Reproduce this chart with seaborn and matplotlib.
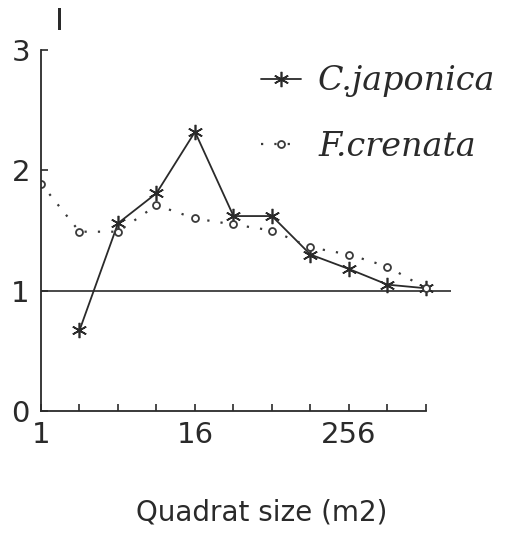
import matplotlib
matplotlib.use("Agg")
import matplotlib.pyplot as plt
import seaborn as sns
import pandas as pd
import numpy as np
from matplotlib.ticker import FixedLocator, FixedFormatter

sns.set_style("ticks")
plt.rcParams['font.family'] = ['DejaVu Sans']

# Data
sizes_jap = [2, 4, 8, 16, 32, 64, 128, 256, 512, 1024]
vals_jap = [0.67, 1.56, 1.81, 2.32, 1.62, 1.62, 1.30, 1.18, 1.05, 1.02]
sizes_cre = [1, 2, 4, 8, 16, 32, 64, 128, 256, 512, 1024]
vals_cre = [1.89, 1.49, 1.49, 1.71, 1.60, 1.55, 1.50, 1.36, 1.30, 1.20, 1.02]
tick_positions = [1, 2, 4, 8, 16, 32, 64, 128, 256, 512, 1024]
tick_labels = ["1", "", "", "", "16", "", "", "", "256", "", ""]
y_ticks = [0, 1, 2, 3]
label_jap = "C.japonica"
label_cre = "F.crenata"

df_jap = pd.DataFrame({"size": sizes_jap, "I": vals_jap})
df_cre = pd.DataFrame({"size": sizes_cre, "I": vals_cre})

fig = plt.figure(figsize=(5.05, 5.33), dpi=100)
ax = fig.add_axes([41/505, 1-411/533, (451-41)/505, (411-50)/533])

sns.lineplot(data=df_jap, x="size", y="I", ax=ax, color="#2a2a2a", lw=1.3,
             marker=(6, 2, 0), ms=11, mew=1.2, mec="#2a2a2a", label=label_jap)
sns.lineplot(data=df_cre, x="size", y="I", ax=ax, color="#3a3a3a", lw=1.6,
             linestyle=(0, (1, 5)), marker="o", ms=5, mfc="white",
             mec="#3a3a3a", mew=1.3, label=label_cre)

ax.set_xscale("log", base=2)
ax.set_xlim(1, 2**10.65)
ax.set_ylim(0, 3)
ax.axhline(1, color="#2a2a2a", lw=1.2, zorder=0)

ax.xaxis.set_major_locator(FixedLocator(tick_positions))
ax.xaxis.set_major_formatter(FixedFormatter(tick_labels))
ax.xaxis.set_minor_locator(FixedLocator([]))
ax.set_yticks(y_ticks)
ax.set_yticklabels([str(v) for v in y_ticks])
ax.tick_params(axis="both", direction="in", length=5, width=1.2, labelsize=21,
               colors="#2a2a2a")
ax.tick_params(axis="x", pad=7)
ax.tick_params(axis="y", pad=8)

for s in ["top", "right"]:
    ax.spines[s].set_visible(False)
for s in ["left", "bottom"]:
    ax.spines[s].set_linewidth(1.3)
    ax.spines[s].set_color("#2a2a2a")
ax.spines["bottom"].set_bounds(1, 1024)

ax.set_xlabel("Quadrat size (m2)", fontsize=20, color="#2a2a2a")
ax.xaxis.set_label_coords(0.539, -0.242)
ax.set_ylabel("I", rotation=0, fontsize=22, color="#2a2a2a")
ax.yaxis.set_label_coords(0.046, 1.04)

leg = ax.legend(loc="upper left", bbox_to_anchor=(248/505, 1-52/533),
                bbox_transform=fig.transFigure, frameon=False,
                prop={"family": "DejaVu Serif", "style": "italic", "size": 24},
                handlelength=1.2, handletextpad=0.5, labelspacing=1.0,
                borderaxespad=0)
for t in leg.get_texts():
    t.set_color("#2a2a2a")

fig.savefig("out.png", dpi=100)
